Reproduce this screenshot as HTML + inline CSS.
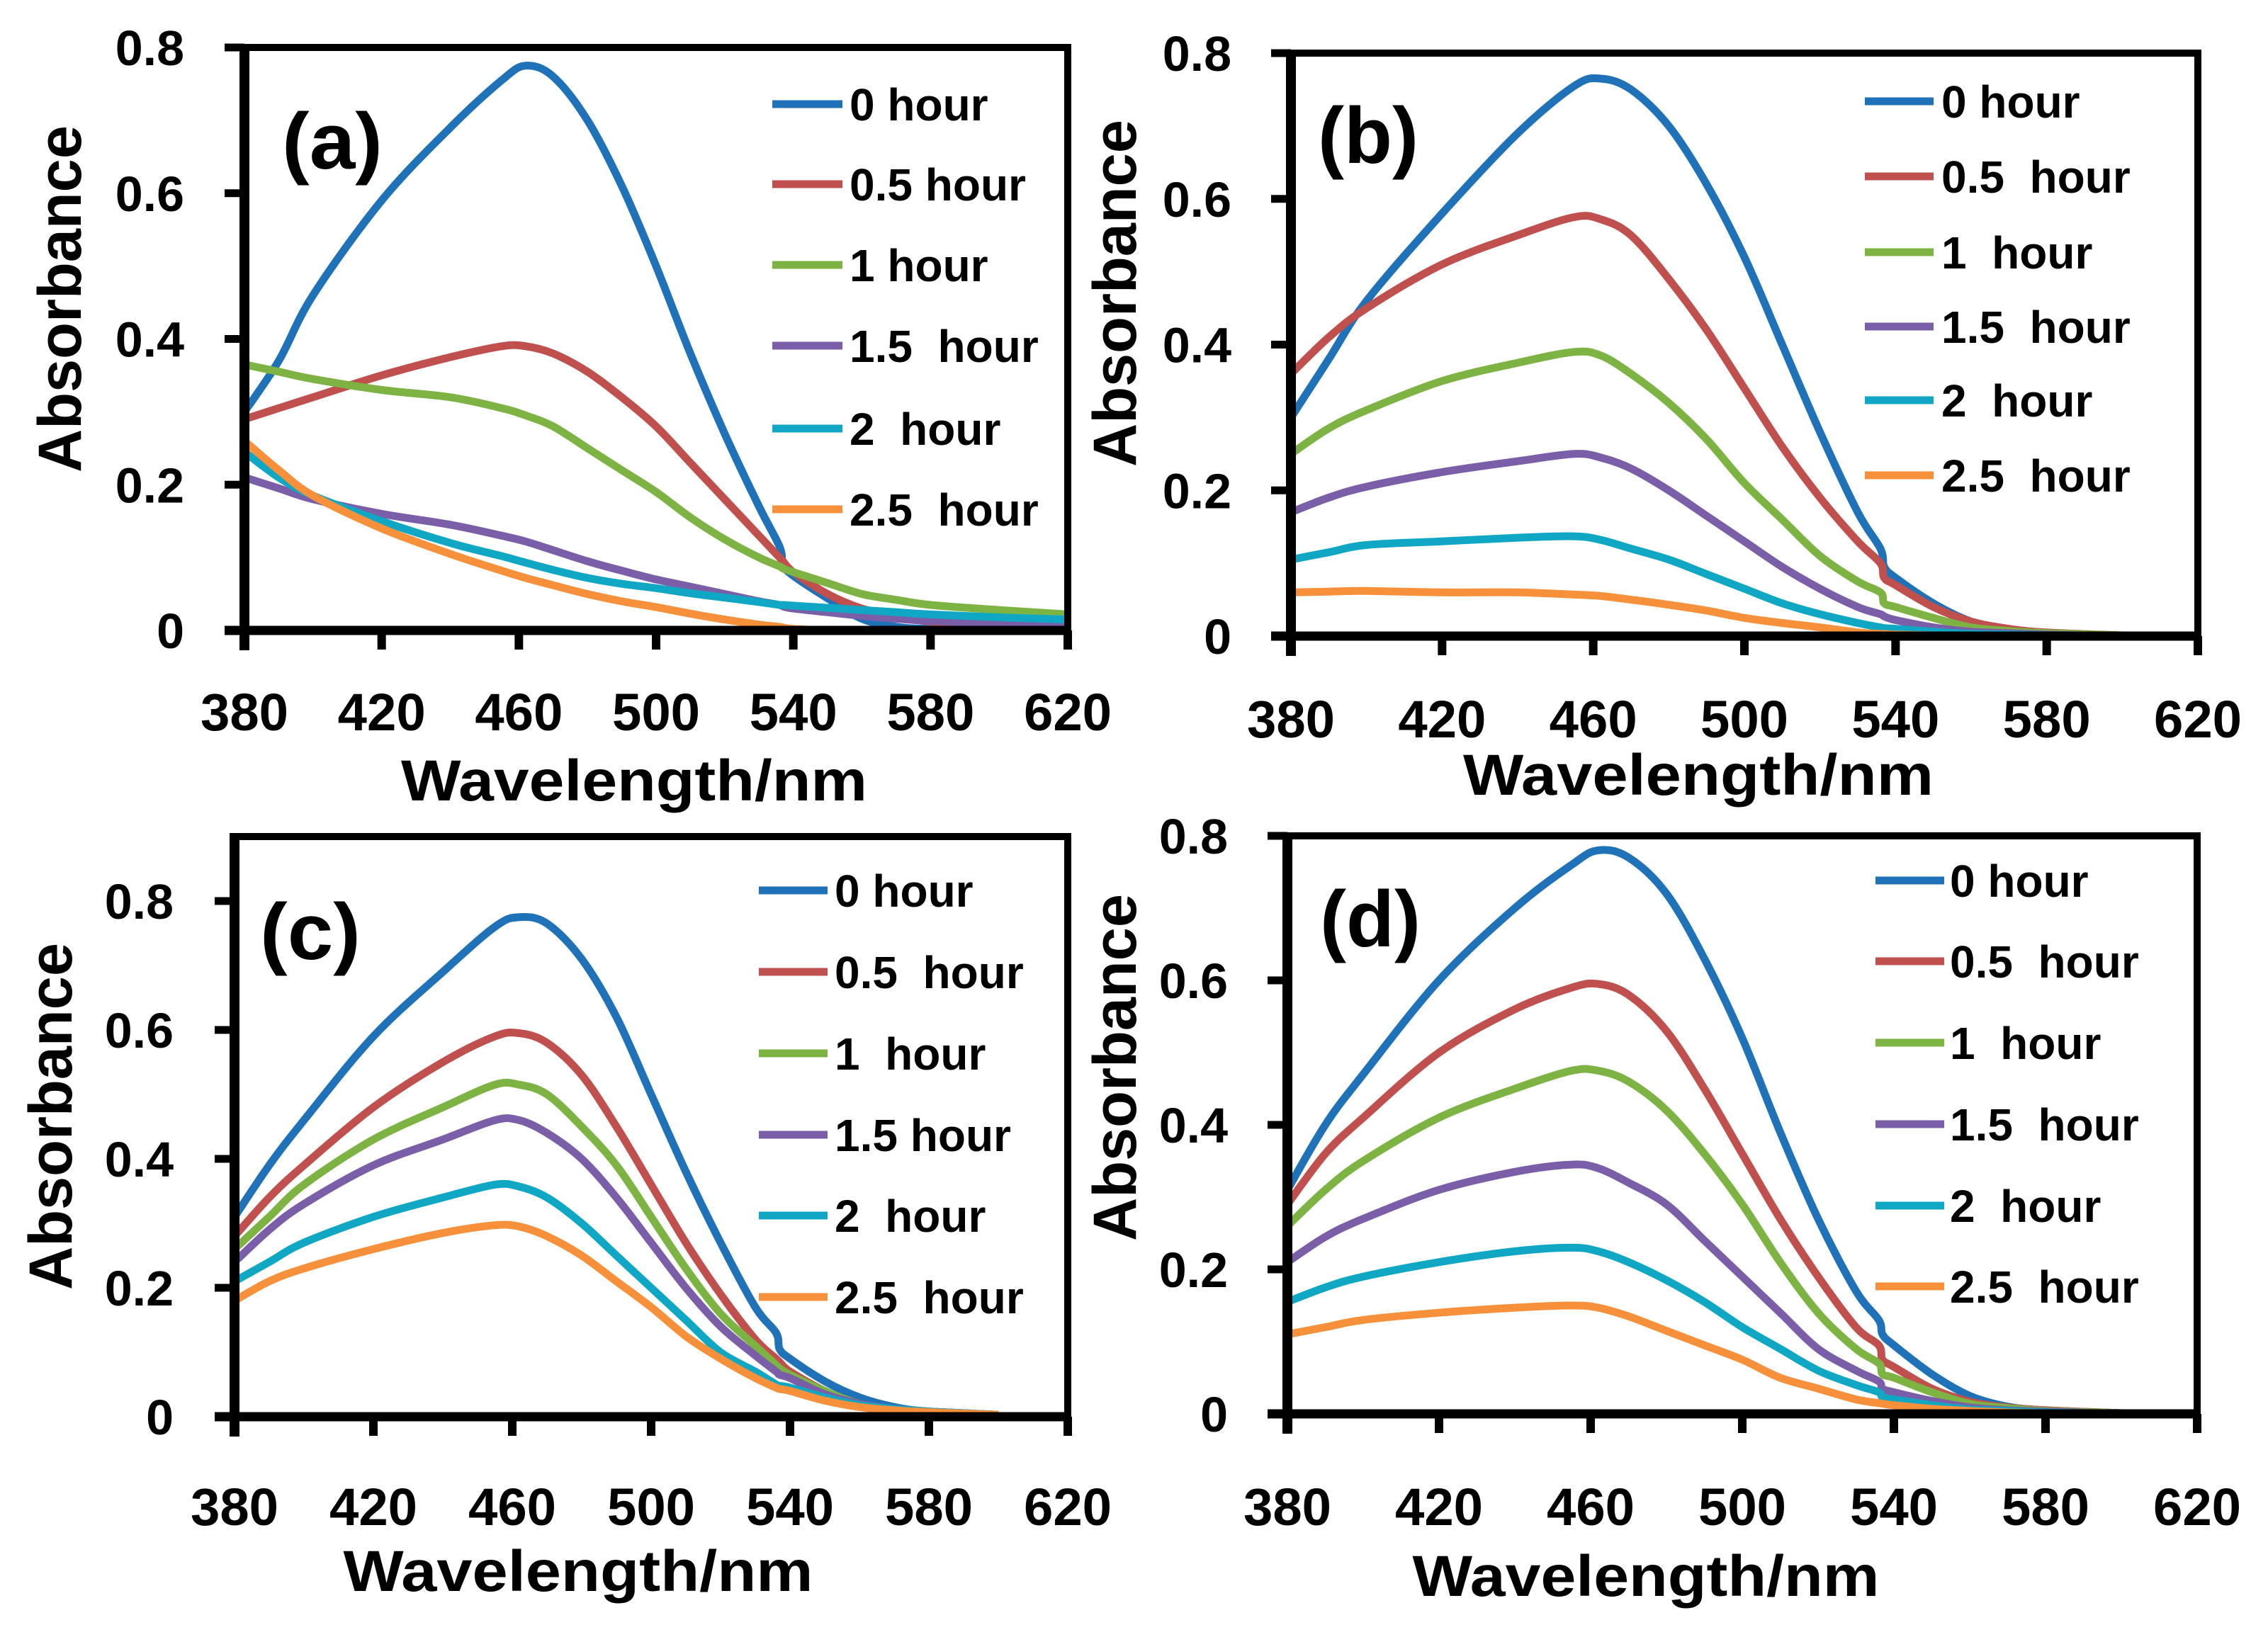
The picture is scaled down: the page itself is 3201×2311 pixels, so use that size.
<!DOCTYPE html>
<html><head><meta charset="utf-8"><style>
html,body{margin:0;padding:0;background:#fff;}
svg{display:block;}
text{font-family:"Liberation Sans",sans-serif;font-weight:bold;fill:#000;white-space:pre;}
</style></head><body>
<svg id="fig" xmlns="http://www.w3.org/2000/svg" width="3201" height="2311" viewBox="0 0 3201 2311"></svg>
<script>
// ---- data ----
const seriesNames = ["0 hour","0.5 hour","1 hour","1.5 hour","2 hour","2.5 hour"];
const seriesColors = ["#1f72b8","#c0504d","#7cb342","#7b5ea8","#0fa7c4","#f7903a"];
const xTicks = [380,420,460,500,540,580,620];
const yTicks = [0,0.2,0.4,0.6,0.8];
const yTickLabels = ["0","0.2","0.4","0.6","0.8"];

const wlA = [380,390,400,420,440,455,462,470,480,490,500,510,520,530,536,537,540,550,560,570,580,600,620];
const a0  = [0.30,0.37,0.46,0.59,0.69,0.755,0.775,0.76,0.70,0.61,0.50,0.38,0.27,0.17,0.115,0.09,0.075,0.044,0.016,0.005,0.002,0,0];
const a05 = [0.29,0.305,0.32,0.35,0.375,0.39,0.39,0.38,0.355,0.32,0.28,0.23,0.18,0.13,0.10,0.095,0.08,0.05,0.03,0.02,0.012,0.006,0.003];
const a1  = [0.365,0.355,0.345,0.33,0.32,0.305,0.295,0.28,0.25,0.22,0.19,0.155,0.125,0.10,0.088,0.085,0.08,0.065,0.05,0.042,0.035,0.028,0.022];
const a15 = [0.21,0.195,0.18,0.16,0.145,0.13,0.122,0.11,0.095,0.082,0.07,0.06,0.05,0.04,0.035,0.033,0.03,0.025,0.02,0.016,0.013,0.01,0.007];
const a2  = [0.245,0.21,0.185,0.15,0.12,0.102,0.093,0.083,0.072,0.064,0.058,0.051,0.045,0.039,0.035,0.035,0.034,0.031,0.028,0.025,0.022,0.018,0.015];
const a25 = [0.26,0.22,0.185,0.14,0.105,0.082,0.072,0.062,0.05,0.04,0.032,0.023,0.015,0.008,0.005,0.004,0.002,0.0,null,null,null,null,null];

const wl = [380,390,400,420,440,455,462,470,480,490,500,510,520,530,536,537,540,550,560,570,580,600];
const b0  = [0.30,0.38,0.46,0.58,0.69,0.755,0.765,0.75,0.70,0.62,0.52,0.40,0.28,0.17,0.12,0.095,0.08,0.045,0.02,0.008,0.003,0];
const b05 = [0.36,0.41,0.45,0.51,0.55,0.575,0.572,0.55,0.49,0.42,0.34,0.26,0.19,0.13,0.10,0.08,0.07,0.04,0.02,0.01,0.005,0.001];
const b1  = [0.25,0.285,0.31,0.35,0.375,0.39,0.385,0.36,0.32,0.27,0.21,0.16,0.11,0.075,0.06,0.045,0.04,0.025,0.012,0.007,0.004,0.001];
const b15 = [0.17,0.19,0.205,0.225,0.24,0.25,0.245,0.23,0.20,0.165,0.13,0.095,0.065,0.04,0.03,0.027,0.022,0.012,0.006,0.004,0.002,0];
const b2  = [0.105,0.115,0.125,0.13,0.135,0.137,0.132,0.12,0.105,0.085,0.065,0.045,0.03,0.018,0.012,0.011,0.01,0.006,0.003,0.002,0.001,0];
const b25 = [0.06,0.061,0.062,0.06,0.06,0.057,0.055,0.05,0.043,0.035,0.025,0.018,0.012,0.005,0.003,0.003,0.002,0.001,0,0,0,0];

const c0  = [0.31,0.39,0.46,0.59,0.69,0.76,0.775,0.765,0.71,0.62,0.50,0.38,0.27,0.17,0.13,0.105,0.09,0.055,0.03,0.015,0.008,0.003];
const c05 = [0.28,0.34,0.39,0.48,0.55,0.59,0.595,0.58,0.53,0.45,0.36,0.27,0.19,0.12,0.09,0.085,0.07,0.04,0.02,0.012,0.008,0.003];
const c1  = [0.26,0.31,0.36,0.43,0.48,0.515,0.515,0.50,0.45,0.39,0.31,0.23,0.16,0.11,0.08,0.075,0.065,0.04,0.02,0.012,0.008,0.003];
const c15 = [0.24,0.29,0.33,0.39,0.43,0.46,0.46,0.44,0.40,0.34,0.27,0.20,0.14,0.095,0.07,0.065,0.06,0.035,0.02,0.012,0.008,0.003];
const c2  = [0.21,0.24,0.27,0.31,0.34,0.36,0.357,0.34,0.30,0.25,0.20,0.15,0.10,0.07,0.05,0.048,0.045,0.03,0.018,0.012,0.008,0.003];
const c25 = [0.18,0.21,0.23,0.26,0.285,0.297,0.295,0.28,0.25,0.21,0.17,0.125,0.09,0.06,0.045,0.043,0.04,0.025,0.015,0.01,0.007,0.003];

const d0  = [0.31,0.40,0.47,0.60,0.70,0.76,0.78,0.77,0.72,0.63,0.52,0.39,0.27,0.17,0.13,0.11,0.095,0.055,0.025,0.01,0.005,0.001];
const d05 = [0.29,0.36,0.41,0.50,0.56,0.59,0.595,0.58,0.53,0.45,0.36,0.27,0.19,0.12,0.095,0.075,0.065,0.035,0.017,0.009,0.005,0.001];
const d1  = [0.26,0.31,0.35,0.41,0.45,0.475,0.475,0.46,0.42,0.36,0.29,0.21,0.14,0.09,0.07,0.055,0.05,0.03,0.014,0.008,0.004,0.001];
const d15 = [0.21,0.245,0.27,0.31,0.335,0.345,0.34,0.32,0.29,0.24,0.19,0.14,0.09,0.06,0.045,0.035,0.03,0.018,0.009,0.005,0.003,0];
const d2  = [0.155,0.175,0.19,0.21,0.225,0.23,0.225,0.21,0.185,0.155,0.12,0.09,0.06,0.04,0.03,0.023,0.02,0.012,0.006,0.004,0.002,0];
const d25 = [0.11,0.12,0.13,0.14,0.147,0.15,0.147,0.135,0.115,0.095,0.075,0.05,0.035,0.02,0.015,0.014,0.012,0.007,0.004,0.002,0.001,0];

const legendA = ["0 hour","0.5 hour","1 hour","1.5  hour","2  hour","2.5  hour"];
const legendB = ["0 hour","0.5  hour","1  hour","1.5  hour","2  hour","2.5  hour"];
const legendC = ["0 hour","0.5  hour","1  hour","1.5 hour","2  hour","2.5  hour"];

// ---- layout ----
const panels = [
 {key:"a",wl:wlA,series:[a0,a05,a1,a15,a2,a25],legend:legendA,x0:345,x1:1507,y0:890,y8:67,top:0.8,
  yl:[84,422],tickR:260,xlb:1031,title:[895,1130,658],lab:[398,238],lg:[1090,1189,1199],rows:[147,260,374,488,605,719]},
 {key:"b",wl:wl,series:[b0,b05,b1,b15,b2,b25],legend:legendB,x0:1822,x1:3102,y0:898,y8:75,top:0.8,
  yl:[1573,414],tickR:1738,xlb:1041,title:[2397,1122,664],lab:[1860,230],lg:[2632,2729,2740],rows:[143,249,356,461,565,671]},
 {key:"c",wl:wl,series:[c0,c05,c1,c15,c2,c25],legend:legendC,x0:331,x1:1507,y0:2000,y8:1272,top:0.9,
  yl:[71,1576],tickR:245,xlb:2153,title:[816,2246,663],lab:[367,1354],lg:[1071,1168,1178],rows:[1257,1372,1487,1602,1716,1831]},
 {key:"d",wl:wl,series:[d0,d05,d1,d15,d2,d25],legend:legendB,x0:1817,x1:3101,y0:1996,y8:1180,top:0.8,
  yl:[1573,1507],tickR:1733,xlb:2153,title:[2323,2253,659],lab:[1863,1336],lg:[2647,2744,2752],rows:[1243,1357,1472,1587,1702,1816]}
];

const NS="http://www.w3.org/2000/svg";
const svg=document.getElementById("fig");
function mk(tag,attrs,parent){const e=document.createElementNS(NS,tag);for(const k in attrs)e.setAttribute(k,attrs[k]);(parent||svg).appendChild(e);return e;}

function smoothPath(pts){
  if(pts.length<2)return "";
  let d="M"+pts[0][0].toFixed(1)+","+pts[0][1].toFixed(1);
  for(let i=0;i<pts.length-1;i++){
    const p0=pts[i-1]||pts[i],p1=pts[i],p2=pts[i+1],p3=pts[i+2]||p2;
    const t=1/6;
    const c1=[p1[0]+(p2[0]-p0[0])*t,p1[1]+(p2[1]-p0[1])*t];
    const c2=[p2[0]-(p3[0]-p1[0])*t,p2[1]-(p3[1]-p1[1])*t];
    d+=" C"+c1[0].toFixed(1)+","+c1[1].toFixed(1)+" "+c2[0].toFixed(1)+","+c2[1].toFixed(1)+" "+p2[0].toFixed(1)+","+p2[1].toFixed(1);
  }
  return d;
}

panels.forEach(p=>{
  const g=mk("g",{});
  
  
  const xs=v=>p.x0+(v-380)/240*(p.x1-p.x0);
  const ys=v=>p.y0-v/0.8*(p.y0-p.y8);
  const yTopPx=ys(p.top);

  p.series.forEach((vals,si)=>{
    const pts=[];
    vals.forEach((v,i)=>{if(v!==null)pts.push([xs(p.wl[i]),ys(v)]);});
    const path=mk("path",{d:smoothPath(pts),fill:"none",stroke:seriesColors[si],"stroke-width":11,"stroke-linejoin":"round","stroke-linecap":"butt"},g);
    
    
  });

  const fr=mk("rect",{x:p.x0,y:yTopPx,width:p.x1-p.x0,height:p.y0-yTopPx,fill:"none",stroke:"#000","stroke-width":10},g);
  
  
  const la=mk("line",{x1:p.x0,y1:yTopPx-5,x2:p.x0,y2:p.y0+28,stroke:"#000","stroke-width":14},g);
  
  
  const ba=mk("line",{x1:p.x0-28,y1:p.y0,x2:p.x1+5,y2:p.y0,stroke:"#000","stroke-width":13},g);
  
  

  yTicks.forEach((v,i)=>{
    const y=ys(v);
    const t=mk("line",{x1:p.x0-28,y1:y,x2:p.x0,y2:y,stroke:"#000","stroke-width":11},g);
    
    
    const tl=mk("text",{x:p.tickR,y:y+25,"text-anchor":"end","font-size":70},g);
    tl.textContent=yTickLabels[i];
    
    
  });
  xTicks.forEach(v=>{
    const x=xs(v);
    const t=mk("line",{x1:x,y1:p.y0,x2:x,y2:p.y0+27,stroke:"#000","stroke-width":12},g);
    
    
    const tl=mk("text",{x:x,y:p.xlb,"text-anchor":"middle","font-size":74,textLength:124,lengthAdjust:"spacingAndGlyphs"},g);
    tl.textContent=String(v);
    
    
  });

  const xt=mk("text",{x:p.title[0],y:p.title[1],"text-anchor":"middle","font-size":82,textLength:p.title[2],lengthAdjust:"spacingAndGlyphs"},g);
  xt.textContent="Wavelength/nm";
  
  
  const yt=mk("text",{x:0,y:0,"text-anchor":"middle","font-size":86,textLength:490,lengthAdjust:"spacingAndGlyphs",transform:"translate("+(p.yl[0]+30)+","+p.yl[1]+") rotate(-90)"},g);
  yt.textContent="Absorbance";
  
  
  const pl=mk("text",{x:p.lab[0],y:p.lab[1],"font-size":112,textLength:142,lengthAdjust:"spacingAndGlyphs"},g);
  pl.textContent="("+p.key+")";
  
  

  p.rows.forEach((ry,i)=>{
    const ll=mk("line",{x1:p.lg[0],y1:ry,x2:p.lg[1],y2:ry,stroke:seriesColors[i],"stroke-width":11},g);
    
    
    const lt=mk("text",{x:p.lg[2],y:ry+23,"font-size":64},g);
    lt.textContent=p.legend[i];
    
    
  });
});
</script>
</body></html>
